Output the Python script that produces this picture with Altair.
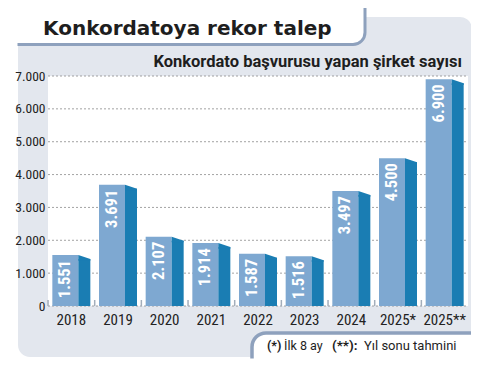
import altair as alt
import pandas as pd

years = ["2018", "2019", "2020", "2021", "2022", "2023", "2024", "2025*", "2025**"]
values = [1551, 3691, 2107, 1914, 1587, 1516, 3497, 4500, 6900]
y_ticks = [0, 1000, 2000, 3000, 4000, 5000, 6000, 7000]

title_text = "Konkordatoya rekor talep"
subtitle_text = "Konkordato başvurusu yapan şirket sayısı"
note_parts = ["(*)", "İlk 8 ay", "(**):", "Yıl sonu tahmini"]

FRONT = "#7ea8d1"
SIDE = "#1a7db3"
PANEL = "#e3e7ee"
LINE = "#8ea1bd"
NARROW = "Roboto Condensed, Open Sans Condensed, DejaVu Sans Condensed, Roboto"

df = pd.DataFrame({
    "year": years,
    "value": values,
    "label": [f"{v:,}".replace(",", ".") for v in values],
})
grid_df = pd.DataFrame({"value": y_ticks})
one = pd.DataFrame({"a": [0]})

W, H = 420, 230

xaxis = alt.Axis(title=None, domain=False, ticks=False, labelAngle=0,
                 labelPadding=6, labelFont=NARROW, labelFontSize=15,
                 labelColor="#222", zindex=1, labelOverlap=False)
xenc = alt.X("year:N", sort=years,
             scale=alt.Scale(paddingInner=0, paddingOuter=0), axis=xaxis)
yscale = alt.Scale(domain=[0, 7000], nice=False)
yaxis = alt.Axis(title=None, domain=False, ticks=False, grid=False,
                 values=y_ticks, labelPadding=3, labelFont=NARROW,
                 labelFontSize=13.5, labelColor="#222", zindex=1,
                 labelOverlap=False, labelFlush=False, labelBaseline="middle",
                 labelExpr="replace(format(datum.value, ','), ',', '.')")
yenc = alt.Y("value:Q", scale=yscale, axis=yaxis)


def rect(x, x2, y, y2, **kw):
    return alt.Chart(one).mark_rect(**kw).encode(
        x=alt.value(x), x2=alt.value(x2), y=alt.value(y), y2=alt.value(y2))


def txt(x, y, s, **kw):
    return alt.Chart(one).mark_text(**kw).encode(
        x=alt.value(x), y=alt.value(y), text=alt.value(s))


panel = rect(-30, 424, -59, 281, fill=PANEL, cornerRadius=12)
title_box = rect(-100, 317, -120, -31.5, fill="white", stroke=LINE, strokeWidth=3,
                 cornerRadiusBottomRight=12)
left_cover = rect(-60, -30.5, -50, -20, fill="white")
note_box = rect(204, 470, 257, 340, fill="white", stroke=LINE, strokeWidth=3.5,
                cornerRadiusTopLeft=14)
bottom_cover = rect(190, 470, 282.5, 340, fill="white")
plot_bg = rect(0, W, 0, H, fill="white")

grid = alt.Chart(grid_df).mark_rule(color="#8c8c8c", strokeWidth=0.8,
                                    strokeDash=[2, 2]).encode(
    y=yenc, x=alt.value(0), x2=alt.value(W))

base = alt.Chart(df)
ticks = base.mark_rule(color="#a3aebb", strokeWidth=1.5, xOffset=-23.3).encode(
    x=xenc, y=alt.value(H - 6), y2=alt.value(H))
front = base.mark_bar(color=FRONT, width=26, xOffset=-6).encode(x=xenc, y=yenc, y2=alt.datum(0))
side = base.mark_bar(color=SIDE, width=12, xOffset=13, yOffset=4, clip=True).encode(
    x=xenc, y=yenc, y2=alt.datum(0))
tri = base.mark_point(shape="M-1,-0.333 L1,0.333 L1,0.6 L-1,0.6 Z", size=144, filled=True,
                      color=SIDE, opacity=1, strokeWidth=0, xOffset=13, yOffset=2).encode(
    x=xenc, y=yenc)
vals = base.mark_text(angle=270, align="right", baseline="middle", dx=-5, xOffset=-6,
                      color="white", font=NARROW, fontSize=16.5, fontWeight="bold").encode(
    x=xenc, y=yenc, text="label:N")

title = txt(-5, -41, title_text, align="left", baseline="alphabetic", font="DejaVu Sans",
            fontSize=20, fontWeight="bold", color="#1e1e1e")
subtitle = txt(414, -9, subtitle_text, align="right", baseline="alphabetic", font="Roboto",
               fontSize=16.5, fontWeight="bold", color="#1e1e1e")
NOTE_FONT = "Roboto"
n1 = txt(219, 274, note_parts[0], align="left", baseline="alphabetic", font=NOTE_FONT,
         fontSize=12.5, fontWeight="bold", color="#1e1e1e")
n2 = txt(236, 274, note_parts[1], align="left", baseline="alphabetic", font=NOTE_FONT,
         fontSize=12.5, color="#1e1e1e")
n3 = txt(284, 274, note_parts[2], align="left", baseline="alphabetic", font=NOTE_FONT,
         fontSize=13.5, fontWeight="bold", color="#1e1e1e")
n4 = txt(316, 274, note_parts[3], align="left", baseline="alphabetic", font=NOTE_FONT,
         fontSize=13, color="#1e1e1e")

chart = alt.layer(
    panel, title_box, left_cover, note_box, bottom_cover, plot_bg, grid, ticks,
    front, side, tri, vals, title, subtitle, n1, n2, n3, n4
).properties(
    width=W, height=H,
    autosize=alt.AutoSizeParams(type="none"),
    padding={"left": 40, "top": 68, "right": 3, "bottom": 65},
    background="white",
).configure_view(stroke=None)

chart.save("out.html", embed_options={"renderer": "svg", "actions": False})
